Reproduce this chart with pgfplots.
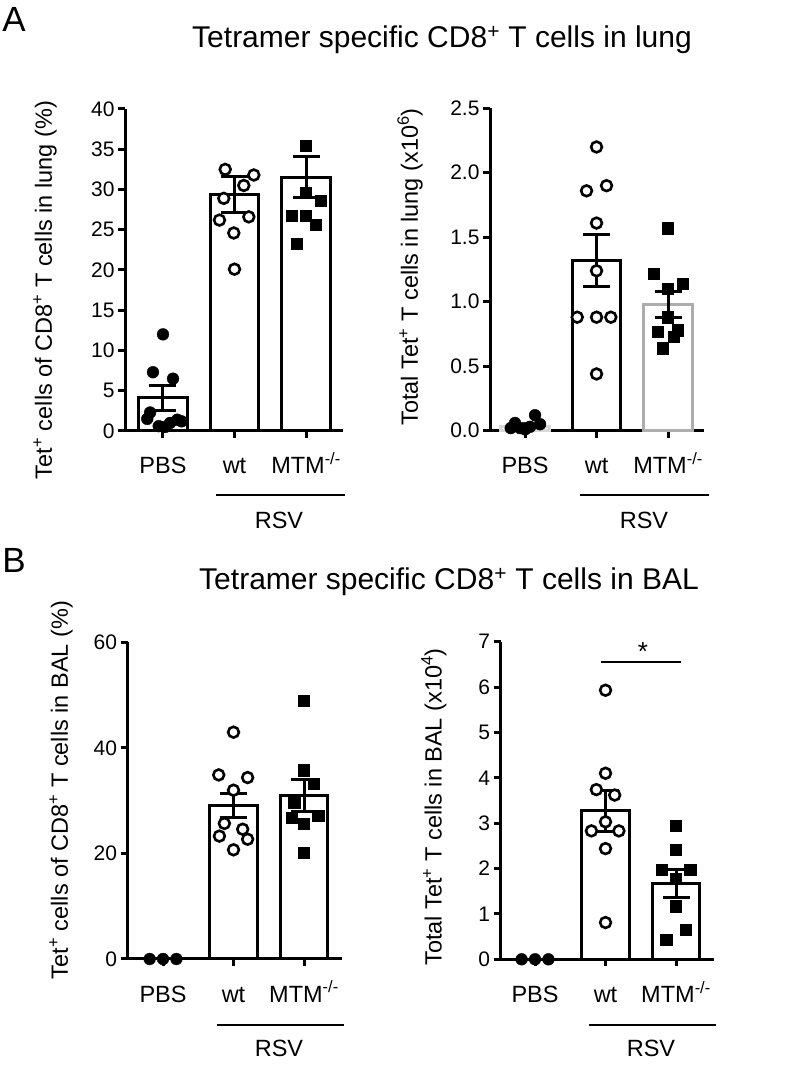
\documentclass[border=0pt]{standalone}
\usepackage{fontspec}
\setmainfont{Liberation Sans}
\usepackage{pgfplots}
\pgfplotsset{compat=1.18}
\pgfplotsset{
  panel/.style={
    scale only axis,
    anchor=south west,
    axis lines=left,
    axis line style={-, line width=3pt, black},
    clip=false,
    ymin=0,
    xtick={0,1,2},
    xticklabels={PBS, wt, MTM\textsuperscript{-/-}},
    tick align=outside,
    major tick length=7pt,
    minor tick num=0,
    tick style={line width=3pt, black},
    x tick label style={font=\fontsize{23.5}{27}\selectfont, anchor=base, yshift=-36pt},
    y tick label style={font=\fontsize{21}{25}\selectfont},
    /pgf/number format/assume math mode=true,
  },
  barw/.style={ybar, bar width=0.68, bar shift=0pt, draw=black, fill=white, line width=3pt},
  ocirc/.style={only marks, mark=*, mark size=5.4pt, mark options={fill=white, draw=black, line width=2.6pt}},
  fcirc/.style={only marks, mark=*, mark size=5.9pt, mark options={fill=black, draw=black, line width=0.4pt}},
  fsq/.style={only marks, mark=square*, mark size=5.6pt, mark options={fill=black, draw=black, line width=0.4pt}},
  errb/.style={draw=none, mark=none, error bars/.cd, y dir=both, y explicit,
    error bar style={line width=3pt, draw=black},
    error mark options={rotate=90, mark size=13.5pt, line width=3pt, draw=black}},
}
\begin{document}
\begin{tikzpicture}[x=1pt,y=1pt]
\path[use as bounding box] (0,0) rectangle (787,1071);

% ---------- A left ----------
\begin{axis}[panel, at={(125pt,640pt)}, width=218pt, height=322pt,
  xmin=-0.531, xmax=2.517, ymax=40, ytick={0,5,...,40}]
\addplot[barw] coordinates {(0,4.1) (1,29.4) (2,31.5)};
\addplot[fcirc] coordinates {(0,12) (-0.14,7.3) (0.14,6.5) (-0.18,2.3) (0.2,1.4) (0.1,1.0) (-0.06,0.6) (0.03,0.5) (-0.22,1.5) (0.26,1.2)};
\addplot[ocirc] coordinates {(0.87,32.5) (1.27,31.8) (1.13,30.5) (0.85,28.9) (1.2,26.6) (0.79,26.2) (0.99,24.6) (1.0,20.1)};
\addplot[fsq] coordinates {(2.0,35.4) (2.0,29.6) (2.2,28.6) (1.8,26.7) (2.0,26.7) (2.14,25.6) (1.87,23.3)};
\addplot[errb] coordinates {(0,4.1) +- (0,1.5) (1,29.4) +- (0,2.2) (2,31.5) +- (0,2.55)};
\end{axis}

% ---------- A right ----------
\begin{axis}[panel, at={(490pt,640.3pt)}, width=214pt, height=322.4pt,
  xmin=-0.49, xmax=2.503, ymax=2.5, ytick={0,0.5,...,2.5},
  yticklabel style={/pgf/number format/.cd, fixed, fixed zerofill, precision=1}]
\addplot[barw, draw=black!15] coordinates {(0,0.03)};
\addplot[barw] coordinates {(1,1.32)};
\addplot[barw, draw=black!32] coordinates {(2,0.98)};
\addplot[fcirc] coordinates {(0.14,0.12) (-0.14,0.06) (0.21,0.05) (0,0.02) (-0.2,0.02) (0.07,0.03) (0.0,0.01) (-0.07,0.02)};
\addplot[ocirc] coordinates {(1.0,2.2) (0.86,1.86) (1.14,1.9) (1.0,1.61) (1.0,1.24) (0.73,0.88) (1.0,0.88) (1.2,0.88) (1.0,0.44)};
\addplot[fsq] coordinates {(2.0,1.57) (1.8,1.22) (2.0,1.10) (2.21,1.14) (2.0,0.88) (1.86,0.77) (2.14,0.78) (2.08,0.73) (1.93,0.64)};
\addplot[errb] coordinates {(1,1.32) +- (0,0.2) (2,0.98) +- (0,0.1)};
\end{axis}

% ---------- B left ----------
\begin{axis}[panel, at={(127.5pt,112pt)}, width=214pt, height=316.5pt,
  xmin=-0.504, xmax=2.532, ymax=60, ytick={0,20,40,60}]
\addplot[barw] coordinates {(1,29.1) (2,31.0)};
\addplot[fcirc] coordinates {(-0.19,0) (0,0) (0.19,0)};
\addplot[ocirc] coordinates {(1.0,43.0) (0.79,34.9) (1.2,34.4) (1.0,32.0) (0.87,25.7) (1.13,24.6) (0.8,23.3) (1.2,22.7) (1.0,20.7)};
\addplot[fsq] coordinates {(2.0,48.9) (2.0,35.8) (2.14,33.3) (1.86,29.7) (1.82,26.8) (2.2,27.2) (2.0,25.7) (2.0,20.2)};
\addplot[errb] coordinates {(1,29.1) +- (0,2.35) (2,31.0) +- (0,3.05)};
\end{axis}

% ---------- B right ----------
\begin{axis}[panel, at={(500.7pt,111.7pt)}, width=213.3pt, height=317.6pt,
  xmin=-0.487, xmax=2.539, ymax=7, ytick={0,1,...,7}]
\addplot[barw] coordinates {(1,3.27) (2,1.67)};
\addplot[fcirc] coordinates {(-0.19,0) (0,0) (0.19,0)};
\addplot[ocirc] coordinates {(1.0,5.93) (1.0,4.10) (0.87,3.74) (1.13,3.62) (1.0,3.03) (0.8,2.83) (1.19,2.83) (1.0,2.44) (1.0,0.81)};
\addplot[fsq] coordinates {(2.0,2.94) (2.0,2.42) (1.8,1.97) (2.2,1.97) (2.0,1.78) (2.0,1.17) (2.14,0.65) (1.86,0.44)};
\addplot[errb] coordinates {(1,3.27) +- (0,0.46) (2,1.67) +- (0,0.3)};
\draw[line width=2pt] (axis cs:0.93,6.55) -- (axis cs:2.07,6.55);
\node[font=\fontsize{26}{30}\selectfont] at (axis cs:1.53,6.78) {*};
\end{axis}

% ---------- texts ----------
\node[font=\fontsize{35}{40}\selectfont] at (14,1052) {A};
\node[font=\fontsize{35}{40}\selectfont] at (14,511) {B};
\node[font=\fontsize{30}{34}\selectfont] at (442,1031) {Tetramer specific CD8\textsuperscript{+} T cells in lung};
\node[font=\fontsize{30}{34}\selectfont] at (449,489) {Tetramer specific CD8\textsuperscript{+} T cells in BAL};

\node[rotate=90, font=\fontsize{23.5}{27}\selectfont] at (45,781) {Tet\textsuperscript{+} cells of CD8\textsuperscript{+} T cells in lung (\%)};
\node[rotate=90, font=\fontsize{23.5}{27}\selectfont] at (410,804) {Total Tet\textsuperscript{+} T cells in lung (x10\textsuperscript{6})};
\node[rotate=90, font=\fontsize{23.5}{27}\selectfont] at (61,281) {Tet\textsuperscript{+} cells of CD8\textsuperscript{+} T cells in BAL (\%)};
\node[rotate=90, font=\fontsize{23.5}{27}\selectfont] at (434,264) {Total Tet\textsuperscript{+} T cells in BAL (x10\textsuperscript{4})};

\draw[line width=2pt] (216,576) -- (345,576);
\draw[line width=2pt] (580,576) -- (709,576);
\draw[line width=2pt] (217,46) -- (344,46);
\draw[line width=2pt] (589,46) -- (716,46);
\node[font=\fontsize{23.5}{27}\selectfont] at (279,551) {RSV};
\node[font=\fontsize{23.5}{27}\selectfont] at (644,551) {RSV};
\node[font=\fontsize{23.5}{27}\selectfont] at (279,23) {RSV};
\node[font=\fontsize{23.5}{27}\selectfont] at (651,23) {RSV};
\end{tikzpicture}
\end{document}
